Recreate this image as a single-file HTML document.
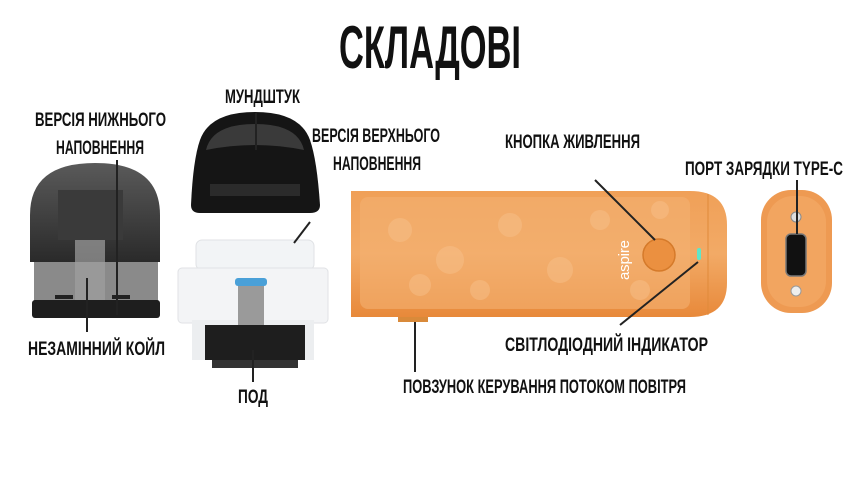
<!DOCTYPE html>
<html><head><meta charset="utf-8"><style>
html,body{margin:0;padding:0;background:#fff}
svg{display:block}
text{font-family:"Liberation Sans Narrow","Liberation Sans",sans-serif;font-weight:bold;fill:#111}
</style></head><body>
<svg width="860" height="500" viewBox="0 0 860 500" xmlns="http://www.w3.org/2000/svg">
<defs>
<linearGradient id="og" x1="0" y1="0" x2="0" y2="1"><stop offset="0" stop-color="#f0a058"/><stop offset="0.5" stop-color="#f2aa66"/><stop offset="1" stop-color="#e8893a"/></linearGradient>
<linearGradient id="dk" x1="0" y1="0" x2="0" y2="1"><stop offset="0" stop-color="#5a5a5a"/><stop offset="1" stop-color="#2a2a2a"/></linearGradient>
</defs>
<text x="430" y="68" text-anchor="middle" font-size="60" textLength="182" lengthAdjust="spacingAndGlyphs">СКЛАДОВІ</text>

<!-- left pod -->
<path d="M30 262 L30 215 Q30 163 95 163 Q160 163 160 215 L160 262 Z" fill="url(#dk)"/>
<rect x="34" y="262" width="124" height="42" fill="#8a8a8a"/>
<rect x="58" y="190" width="65" height="50" fill="#3a3a3a"/>
<rect x="75" y="240" width="30" height="60" fill="#a0a0a0" opacity="0.7"/>
<rect x="32" y="300" width="128" height="18" rx="3" fill="#1e1e1e"/>
<rect x="55" y="295" width="18" height="4" fill="#222"/><rect x="112" y="295" width="18" height="4" fill="#222"/>

<!-- mouthpiece -->
<path d="M191 205 Q193 160 200 140 Q210 112 255 112 Q300 112 310 140 Q317 160 320 205 Q320 213 310 213 L200 213 Q191 213 191 205Z" fill="#151515"/>
<path d="M206 150 Q212 124 255 124 Q298 124 304 150 Q255 140 206 150Z" fill="#3a3a3a"/>
<rect x="210" y="184" width="90" height="12" fill="#2b2b2b"/>

<!-- transparent pod -->
<rect x="196" y="240" width="118" height="30" rx="6" fill="#f2f4f6" stroke="#e0e2e5"/>
<rect x="178" y="268" width="150" height="55" rx="4" fill="#f3f4f6" stroke="#e0e2e5"/>
<rect x="192" y="320" width="122" height="40" fill="#eceef0"/>
<rect x="238" y="278" width="26" height="50" fill="#9a9a9a"/>
<rect x="235" y="278" width="32" height="8" rx="3" fill="#4aa0d8"/>
<rect x="205" y="325" width="100" height="35" fill="#1e1e1e"/>
<rect x="212" y="360" width="86" height="8" fill="#333"/>

<!-- main device -->
<path d="M351 191 L690 191 Q727 191 727 225 L727 283 Q727 317 690 317 L351 317 Z" fill="url(#og)"/>
<rect x="360" y="197" width="330" height="112" rx="8" fill="#f3b071" opacity="0.6"/>
<g fill="#f7c08a" opacity="0.5">
<circle cx="400" cy="230" r="12"/><circle cx="450" cy="260" r="14"/><circle cx="510" cy="225" r="12"/><circle cx="560" cy="270" r="13"/><circle cx="600" cy="220" r="10"/><circle cx="480" cy="290" r="10"/><circle cx="420" cy="285" r="11"/><circle cx="660" cy="210" r="9"/><circle cx="640" cy="290" r="10"/>
</g>
<line x1="708" y1="194" x2="708" y2="315" stroke="#e08a3a"/>
<circle cx="659" cy="255" r="16" fill="#eb9040" stroke="#d57a2a" stroke-width="1.5"/>
<rect x="697" y="248" width="4" height="12" rx="2" fill="#5fe6c8"/>
<text x="629" y="280" font-size="15" style="fill:#fff;font-family:'Liberation Sans',sans-serif;font-weight:normal" transform="rotate(-90 629 280)" textLength="40">aspire</text>
<rect x="398" y="317" width="30" height="5" fill="#d98a3a"/>

<!-- side view -->
<rect x="761" y="190" width="71" height="123" rx="30" fill="#ee9a52"/>
<rect x="767" y="196" width="59" height="111" rx="26" fill="#f2a560"/>
<rect x="786" y="234" width="20" height="42" rx="5" fill="#111" stroke="#777" stroke-width="1.5"/>
<circle cx="796" cy="217" r="5" fill="#ddd" stroke="#888"/>
<circle cx="796" cy="291" r="5" fill="#eee" stroke="#999"/>

<g stroke="#222" stroke-width="2" fill="none">
<line x1="117" y1="160" x2="117" y2="315"/>
<line x1="87" y1="278" x2="87" y2="332"/>
<line x1="256" y1="113" x2="256" y2="150"/>
<line x1="310" y1="222" x2="294" y2="243"/>
<line x1="253" y1="350" x2="253" y2="382"/>
<line x1="595" y1="180" x2="655" y2="240"/>
<line x1="797" y1="180" x2="797" y2="234"/>
<line x1="698" y1="262" x2="620" y2="325"/>
<line x1="415" y1="322" x2="415" y2="372"/>
</g>

<g font-size="19">
<text x="35" y="126" textLength="131" lengthAdjust="spacingAndGlyphs">ВЕРСІЯ НИЖНЬОГО</text>
<text x="56" y="154" textLength="88" lengthAdjust="spacingAndGlyphs">НАПОВНЕННЯ</text>
<text x="225" y="103" textLength="75" lengthAdjust="spacingAndGlyphs">МУНДШТУК</text>
<text x="312" y="142" textLength="128" lengthAdjust="spacingAndGlyphs">ВЕРСІЯ ВЕРХНЬОГО</text>
<text x="333" y="170" textLength="88" lengthAdjust="spacingAndGlyphs">НАПОВНЕННЯ</text>
<text x="505" y="148" textLength="135" lengthAdjust="spacingAndGlyphs">КНОПКА ЖИВЛЕННЯ</text>
<text x="685" y="175" textLength="158" lengthAdjust="spacingAndGlyphs">ПОРТ ЗАРЯДКИ TYPE-C</text>
<text x="28" y="355" textLength="137" lengthAdjust="spacingAndGlyphs">НЕЗАМІННИЙ КОЙЛ</text>
<text x="238" y="403" textLength="30" lengthAdjust="spacingAndGlyphs">ПОД</text>
<text x="505" y="351" textLength="203" lengthAdjust="spacingAndGlyphs">СВІТЛОДІОДНИЙ ІНДИКАТОР</text>
<text x="403" y="393" textLength="283" lengthAdjust="spacingAndGlyphs">ПОВЗУНОК КЕРУВАННЯ ПОТОКОМ ПОВІТРЯ</text>
</g>
</svg>
</body></html>
